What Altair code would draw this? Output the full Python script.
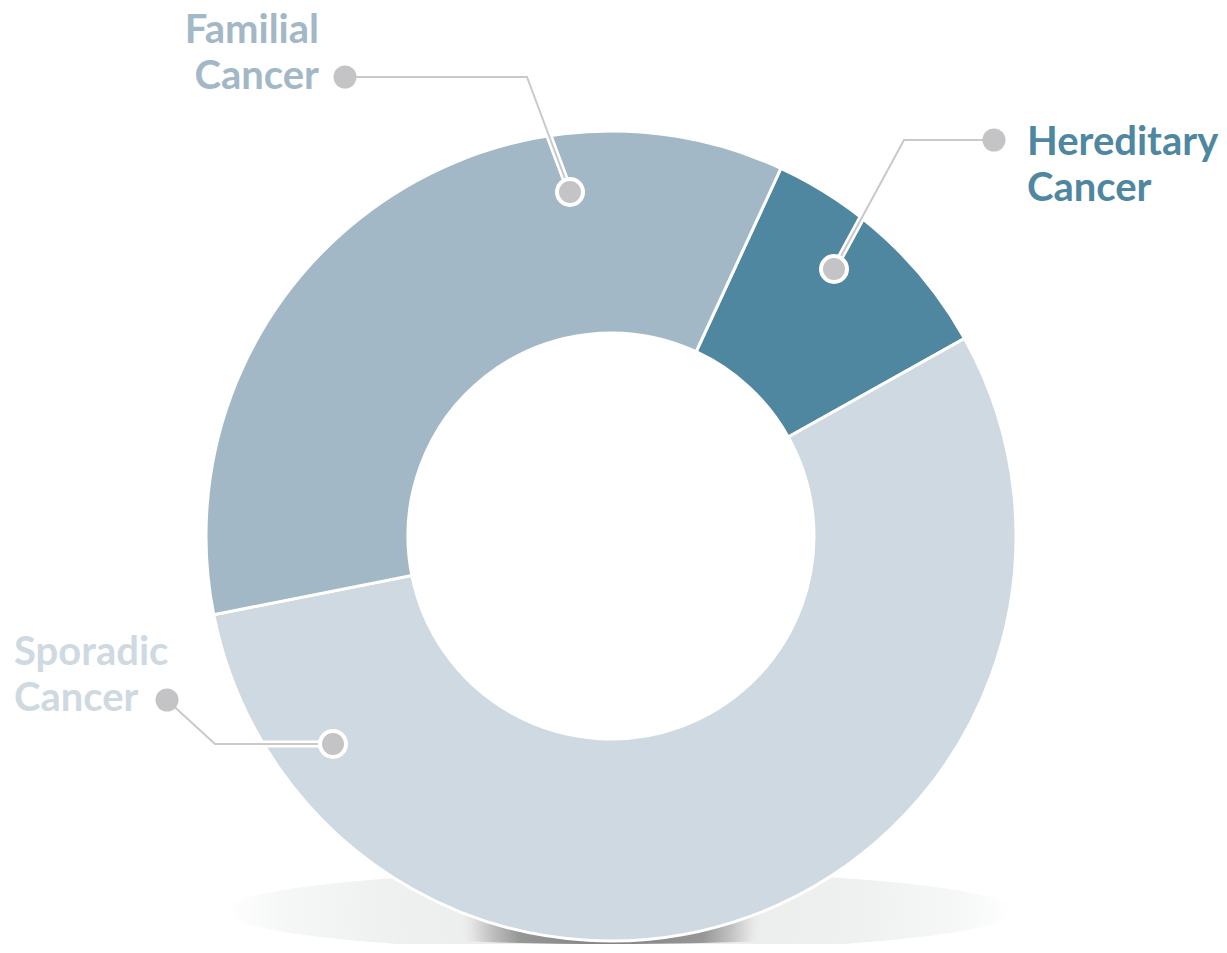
import math
import altair as alt
import pandas as pd

# ---- data ----
categories = ["Hereditary Cancer", "Sporadic Cancer", "Familial Cancer"]
shares = [10, 55, 35]
slice_colors = ["#4f87a1", "#cfd9e1", "#a3b8c6"]
label_lines = ["Hereditary\nCancer", "Sporadic\nCancer", "Familial\nCancer"]

# ---- layout (pixel positions of the annotation layer) ----
W, H = 1211, 936
M = 8  # page margin
CX, CY = 611 - M, 536 - M
R_OUT, R_IN = 405, 203
START = math.radians(24.8)

# leader line geometry: label dot -> elbow -> point on slice (page coords)
leaders = {
    "Hereditary Cancer": [(994, 140), (904, 140), (834, 269)],
    "Sporadic Cancer": [(167, 700), (215, 744), (333, 744)],
    "Familial Cancer": [(345, 77), (527, 77), (570, 192)],
}
label_pos = {
    "Hereditary Cancer": (1027, 155, "left"),
    "Sporadic Cancer": (14, 665, "left"),
    "Familial Cancer": (319, 43, "right"),
}

xs = alt.Scale(domain=[0, W], range=[0, W])
ys = alt.Scale(domain=[0, H], range=[0, H])
cs = alt.Scale(domain=categories, range=slice_colors)

slices = pd.DataFrame({"name": categories, "value": shares, "idx": range(len(categories))})

line_rows, dot_rows, text_rows = [], [], []
for name, lines in zip(categories, label_lines):
    pts = leaders[name]
    for i, (px, py) in enumerate(pts):
        line_rows.append({"name": name, "i": i, "x": px - M, "y": py - M})
    dot_rows.append({"name": name, "kind": "label", "x": pts[0][0] - M, "y": pts[0][1] - M})
    dot_rows.append({"name": name, "kind": "anchor", "x": pts[-1][0] - M, "y": pts[-1][1] - M})
    tx, ty, al = label_pos[name]
    text_rows.append({"name": name, "text": lines, "x": tx - M, "y": ty - M, "align": al})

lines_df = pd.DataFrame(line_rows)
dots_df = pd.DataFrame(dot_rows)
text_df = pd.DataFrame(text_rows)
one = pd.DataFrame({"a": [0]})

def ellipse(ry):
    return f"M-1,0 A1,{ry} 0 1,0 1,0 A1,{ry} 0 1,0 -1,0 Z"

# soft floor shadow
shadow_light = alt.Chart(one).mark_point(
    shape=ellipse(80 / 790), size=790 ** 2, filled=True, opacity=1, strokeWidth=0,
    fill=alt.RadialGradient(
        gradient="radial", x1=0.5, y1=0.5, r1=0, x2=0.5, y2=0.5, r2=0.5,
        stops=[alt.GradientStop(color="#e9ebeb", offset=0),
               alt.GradientStop(color="#eff1f1", offset=0.6),
               alt.GradientStop(color="#f6f7f7", offset=0.85),
               alt.GradientStop(color="#ffffff", offset=1)]),
).encode(x=alt.value(620 - M), y=alt.value(911 - M))

shadow_dark = alt.Chart(one).mark_point(
    shape=ellipse(46 / 620), size=620 ** 2, filled=True, opacity=1, strokeWidth=0,
    fill=alt.RadialGradient(
        gradient="radial", x1=0.5, y1=0.5, r1=0, x2=0.5, y2=0.5, r2=0.5,
        stops=[alt.GradientStop(color="#808080", offset=0),
               alt.GradientStop(color="#979797", offset=0.3),
               alt.GradientStop(color="#bdbdbd", offset=0.38),
               alt.GradientStop(color="#e4e4e4", offset=0.45),
               alt.GradientStop(color="rgba(240,241,241,0)", offset=0.5)]),
).encode(x=alt.value(611 - M), y=alt.value(921 - M))

donut = alt.Chart(slices).mark_arc(
    radius=R_OUT, radius2=R_IN, stroke="white", strokeWidth=3
).encode(
    x=alt.value(CX), y=alt.value(CY),
    theta=alt.Theta("value:Q", stack=True,
                    scale=alt.Scale(range=[START, START + 2 * math.pi])),
    color=alt.Color("name:N", scale=cs, legend=None),
    order=alt.Order("idx:Q"),
)

line_base = alt.Chart(lines_df).encode(
    x=alt.X("x:Q", scale=xs, axis=None),
    y=alt.Y("y:Q", scale=ys, axis=None),
    detail="name:N",
    order="i:Q",
)
halo = line_base.mark_line(color="white", strokeWidth=7, strokeJoin="miter")
leader = line_base.mark_line(color="#c9c9c9", strokeWidth=2, strokeJoin="miter")

label_dots = alt.Chart(dots_df).transform_filter(alt.datum.kind == "label").mark_point(
    shape="circle", filled=True, size=529, color="#c4c4c6", opacity=1, strokeWidth=0
).encode(x=alt.X("x:Q", scale=xs, axis=None), y=alt.Y("y:Q", scale=ys, axis=None))

anchor_dots = alt.Chart(dots_df).transform_filter(alt.datum.kind == "anchor").mark_point(
    shape="circle", filled=True, size=676, fill="#c4c4c6", stroke="white",
    strokeWidth=4, opacity=1
).encode(x=alt.X("x:Q", scale=xs, axis=None), y=alt.Y("y:Q", scale=ys, axis=None))

def text_layer(al):
    return alt.Chart(text_df).transform_filter(alt.datum.align == al).mark_text(
        align=al, baseline="alphabetic", font="Lato", fontWeight="bold",
        fontSize=40, lineBreak="\n", lineHeight=46
    ).encode(
        x=alt.X("x:Q", scale=xs, axis=None),
        y=alt.Y("y:Q", scale=ys, axis=None),
        text="text:N",
        color=alt.Color("name:N", scale=cs, legend=None),
    )

chart = alt.layer(
    shadow_light, shadow_dark, donut, halo, leader, label_dots, anchor_dots,
    text_layer("left"), text_layer("right"),
).properties(
    width=W, height=H, padding=0, autosize=alt.AutoSizeParams(type="none"),
    background="white",
).configure_view(stroke=None)

chart.save("out.html", embed_options={"renderer": "svg", "actions": False})
